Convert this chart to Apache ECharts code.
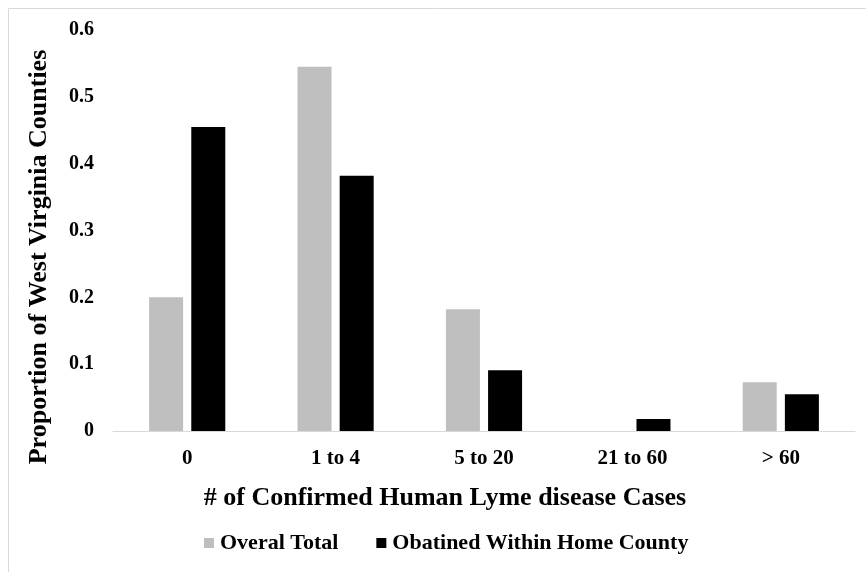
<!DOCTYPE html>
<html>
<head>
<meta charset="utf-8">
<script src="https://cdn.jsdelivr.net/npm/echarts@6/dist/echarts.min.js"></script>
<style>
  html, body { margin: 0; padding: 0; background: #fff; }
  #chart { width: 866px; height: 572px; }
</style>
</head>
<body>
<div id="chart"></div>
<script>
// 数据
const categories = ['0', '1 to 4', '5 to 20', '21 to 60', '> 60'];
const overallTotal = [0.2, 0.545, 0.182, 0, 0.073];
const withinHome = [0.455, 0.382, 0.091, 0.018, 0.055];
const seriesNames = ['Overal Total', 'Obatined Within Home County'];

const font = '"Liberation Serif", "Times New Roman", serif';

const chart = echarts.init(document.getElementById('chart'));

const option = {
  animation: false,
  backgroundColor: '#fff',
  textStyle: { fontFamily: font },
  graphic: [
    {
      type: 'rect',
      shape: { x: 8.5, y: 8.5, width: 880, height: 580 },
      style: { fill: 'none', stroke: '#d9d9d9', lineWidth: 1 },
      silent: true
    },
    // x 轴标题
    {
      type: 'text',
      x: 445,
      y: 498,
      style: {
        text: '# of Confirmed Human Lyme disease Cases',
        font: 'bold 26px ' + font,
        fill: '#000',
        align: 'center',
        verticalAlign: 'middle'
      }
    },
    // y 轴标题
    {
      type: 'text',
      x: 39,
      y: 257,
      rotation: Math.PI / 2,
      style: {
        text: 'Proportion of West Virginia Counties',
        font: 'bold 26px ' + font,
        fill: '#000',
        align: 'center',
        verticalAlign: 'middle'
      }
    }
  ],
  grid: {
    left: 113,
    right: 11,
    top: 30,
    bottom: 141
  },
  legend: {
    data: seriesNames,
    bottom: 13,
    left: 199,
    itemWidth: 10,
    itemHeight: 10,
    itemGap: 38,
    icon: 'rect',
    textStyle: {
      fontFamily: font,
      fontWeight: 'bold',
      fontSize: 22,
      color: '#000',
      padding: [0, 0, 0, 1]
    }
  },
  xAxis: {
    type: 'category',
    data: categories,
    axisLine: { lineStyle: { color: '#d9d9d9', width: 1 } },
    axisTick: { show: false },
    axisLabel: {
      color: '#000',
      fontFamily: font,
      fontWeight: 'bold',
      fontSize: 21,
      margin: 17
    }
  },
  yAxis: {
    type: 'value',
    min: 0,
    max: 0.6,
    interval: 0.1,
    splitLine: { show: false },
    axisLine: { show: false },
    axisTick: { show: false },
    axisLabel: {
      color: '#000',
      fontFamily: font,
      fontWeight: 'bold',
      fontSize: 20,
      margin: 19,
      formatter: v => (v === 0 ? '0' : v.toFixed(1))
    }
  },
  series: [
    {
      name: seriesNames[0],
      type: 'bar',
      data: overallTotal,
      barWidth: 34,
      barGap: '24%',
      itemStyle: { color: '#bfbfbf' }
    },
    {
      name: seriesNames[1],
      type: 'bar',
      data: withinHome,
      barWidth: 34,
      itemStyle: { color: '#000' }
    }
  ]
};

chart.setOption(option);
</script>
</body>
</html>
